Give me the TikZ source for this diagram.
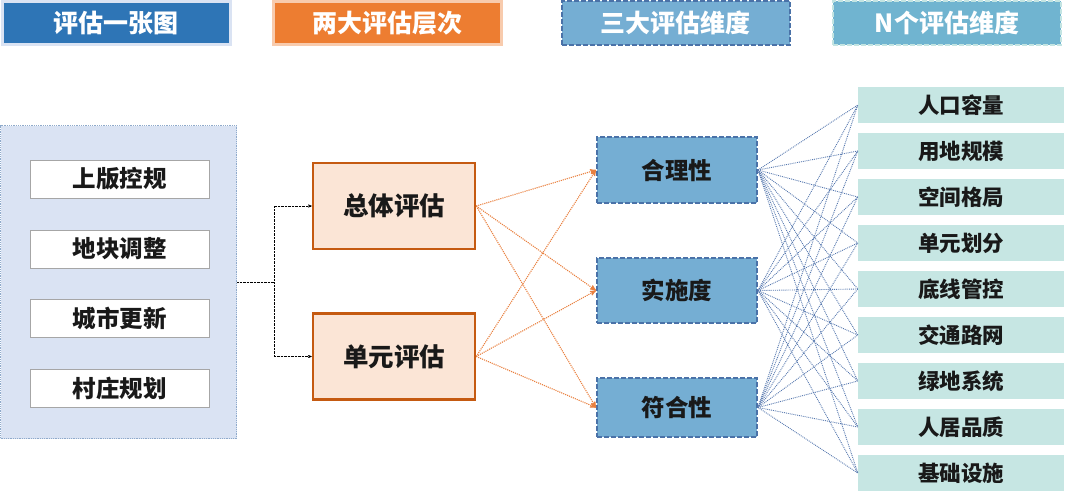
\documentclass[tikz,border=0pt]{standalone}
\usepackage{fontspec}
\newfontfamily\cjkfont{Noto Sans CJK SC}
\usetikzlibrary{arrows}
\usetikzlibrary{positioning}

\definecolor{hdblue}{HTML}{2E75B6}
\definecolor{hdblueline}{HTML}{DAE3F3}
\definecolor{hdorange}{HTML}{ED7D31}
\definecolor{hdorangeline}{HTML}{F8CBAD}
\definecolor{dimfill}{HTML}{75AED3}
\definecolor{dimline}{HTML}{4A72A8}
\definecolor{nfill}{HTML}{70B4D0}
\definecolor{nline}{HTML}{C3E4E2}
\definecolor{srcfill}{HTML}{DAE3F3}
\definecolor{srcline}{HTML}{8FAACB}
\definecolor{lvfill}{HTML}{FBE5D6}
\definecolor{lvline}{HTML}{C55A11}
\definecolor{itemfill}{HTML}{C6E6E3}
\definecolor{orangelink}{HTML}{E9803F}
\definecolor{bluelink}{HTML}{5577AE}

\begin{document}
\begin{tikzpicture}
[x=1pt,y=-1pt,>=stealth',every node/.style={inner sep=0pt,text=black!90,font=\cjkfont\bfseries\fontsize{23.5}{26}\selectfont},
 head/.style={line width=3pt,minimum width=228pt,minimum height=43pt,text=white,font=\cjkfont\bfseries\fontsize{25}{28}\selectfont},
 dash head/.style={head,line width=2pt,dash pattern=on 5pt off 2pt,minimum height=44pt},
 srcitem/.style={draw=gray!70,fill=white,line width=0.8pt,minimum width=179pt,minimum height=38pt},
 level/.style={draw=lvline,fill=lvfill,line width=2.5pt,minimum width=162pt,minimum height=86pt,font=\cjkfont\bfseries\fontsize{25.5}{28}\selectfont},
 dimbox/.style={draw=dimline,fill=dimfill,line width=2pt,dash pattern=on 5pt off 2pt,minimum width=160pt},
 item/.style={fill=itemfill,minimum width=206pt,minimum height=36pt,font=\cjkfont\bfseries\fontsize{21.5}{24}\selectfont},
 olink/.style={orangelink,densely dotted,line width=1.1pt,->},
 blink/.style={bluelink,densely dotted,line width=0.9pt}]

\path[use as bounding box] (0,0) rectangle (1080,498);

\node[head,draw=hdblueline,fill=hdblue] (h1) at (116,23) {评估一张图};
\node[head,draw=hdorangeline,fill=hdorange] (h2) at (387,23) {两大评估层次};
\node[dash head,draw=dimline,fill=dimfill] (h3) at (675.5,23) {三大评估维度};
\node[dash head,draw=nline,fill=nfill] (h4) at (947,23) {N个评估维度};

\node[draw=srcline,fill=srcfill,densely dotted,line width=0.8pt,minimum width=236pt,minimum height=313pt] (src) at (118.5,282) {};
\node[srcitem] (s1) at (119.5,179) {上版控规};
\node[srcitem] (s2) at (119.5,249) {地块调整};
\node[srcitem] (s3) at (119.5,318) {城市更新};
\node[srcitem] (s4) at (119.5,388) {村庄规划};

\node[level] (tot) at (394,206) {总体评估};
\node[level] (unit) at (394,356.5) {单元评估};

\node[dimbox,minimum height=66pt] (d1) at (677,170) {合理性};
\node[dimbox,minimum height=65pt] (d2) at (677,290.5) {实施度};
\node[dimbox,minimum height=59pt] (d3) at (677,407.5) {符合性};

\node[item] (n1) at (961,105) {人口容量};
\node[item] (n2) at (961,151) {用地规模};
\node[item] (n3) at (961,197) {空间格局};
\node[item] (n4) at (961,243) {单元划分};
\node[item] (n5) at (961,289) {底线管控};
\node[item] (n6) at (961,335) {交通路网};
\node[item] (n7) at (961,381) {绿地系统};
\node[item] (n8) at (961,427) {人居品质};
\node[item] (n9) at (961,473) {基础设施};

\coordinate (split) at (274,282);
\draw[densely dotted,thin] (src.east) -- (split);
\draw[densely dotted,thin,->] (split) |- (tot.west);
\draw[densely dotted,thin,->] (split) |- (unit.west);

\foreach \a in {tot,unit}
  \foreach \b in {d1,d2,d3}
    \draw[olink] (\a.east) -- (\b.west);

\foreach \b in {d1,d2,d3}
  \foreach \n in {1,...,9}
    \draw[blink] (\b.east) -- (n\n.west);
\end{tikzpicture}
\end{document}
